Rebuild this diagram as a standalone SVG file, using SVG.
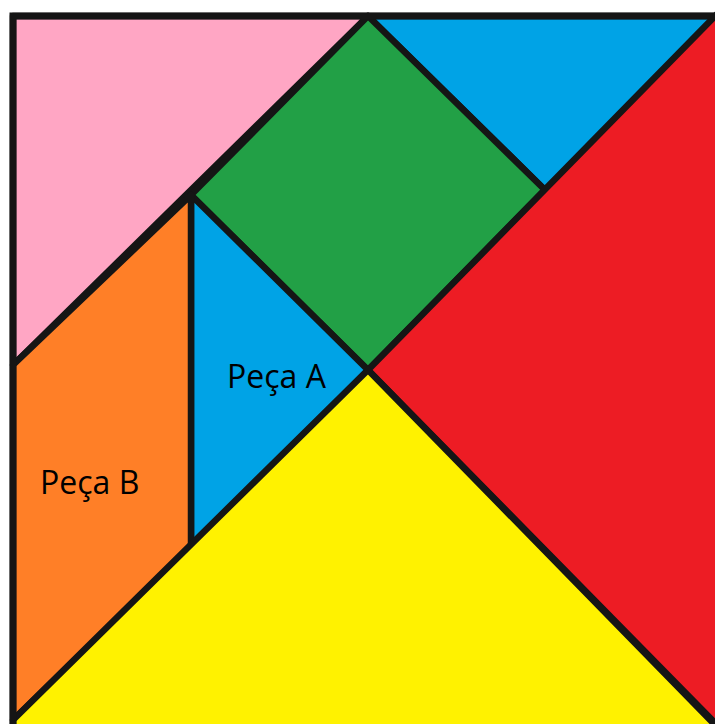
<svg xmlns="http://www.w3.org/2000/svg" width="715" height="724" viewBox="0 0 715 724">
<style>
.p{stroke:#151515;stroke-width:6.5;stroke-linejoin:round}
.t{font-family:"Open Sans","Noto Sans",sans-serif;font-size:32px;fill:#000}
</style>
<rect width="715" height="724" fill="#fff"/>
<g id="pink"><polygon class="p" fill="#FFA6C4" points="13,16 368,16 13,365"/></g>
<g id="blue-top"><polygon class="p" fill="#00A3E6" points="368,16 722,16 545,190"/></g>
<g id="green"><polygon class="p" fill="#22A046" points="368,16 545,190 368,370 191,195"/></g>
<g id="red"><polygon class="p" fill="#ED1C24" points="722,9 722,730 368,370"/></g>
<g id="pecaA"><polygon class="p" fill="#00A3E6" points="191,195 368,370 191,547"/>
<text class="t" x="227" y="388">Peça A</text></g>
<g id="pecaB"><polygon class="p" fill="#FF7F27" points="13,365 191,195 191,547 13,720"/>
<text class="t" x="40" y="494">Peça B</text></g>
<g id="yellow"><polygon class="p" fill="#FFF200" points="13,720 368,370 718,728 13,728"/></g>
<g id="border"><polyline points="13,730 13,16 722,16" fill="none" stroke="#151515" stroke-width="7" stroke-linejoin="miter"/></g>
</svg>
